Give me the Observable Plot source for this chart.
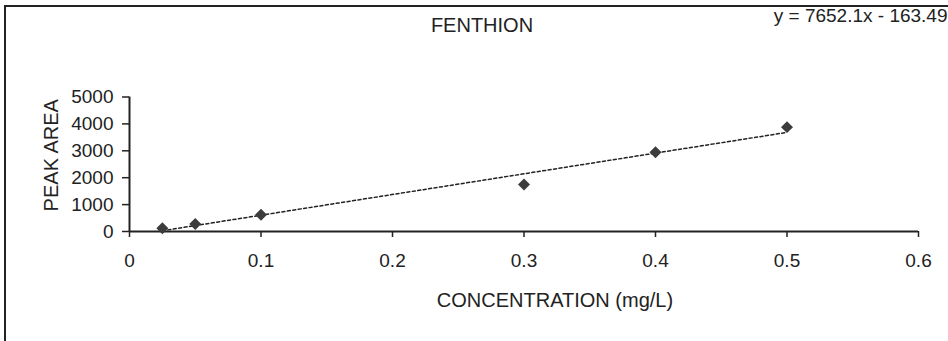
<!DOCTYPE html>
<html><head><meta charset="utf-8">
<script src="https://cdn.jsdelivr.net/npm/d3@7"></script>
<script src="https://cdn.jsdelivr.net/npm/@observablehq/plot@0.6"></script>
<style>
body{margin:0;background:#fff;}
#wrap{position:relative;width:948px;height:341px;overflow:hidden;}
#frame{position:absolute;left:4px;top:5px;width:2000px;height:2000px;border-left:2px solid #222;border-top:2px solid #222;pointer-events:none;}
#chart{position:absolute;left:0;top:0;}
</style></head><body><div id="wrap"><div id="frame"></div><div id="chart"></div></div>
<script>
const concentration = [0.025, 0.05, 0.1, 0.3, 0.4, 0.5];
const peakArea = [120, 280, 620, 1750, 2950, 3880];
const xTicks = [0, 0.1, 0.2, 0.3, 0.4, 0.5, 0.6];
const yTicks = [0, 1000, 2000, 3000, 4000, 5000];
const title = "FENTHION";
const equation = "y = 7652.1x - 163.49";
const xLabel = "CONCENTRATION (mg/L)";
const yLabel = "PEAK AREA";

const data = concentration.map((c, i) => ({c, a: peakArea[i]}));
const fmt = d => String(d);
const ink = "#222";

const chart = Plot.plot({
  width: 948, height: 341,
  marginLeft: 129, marginRight: 30, marginTop: 96.5, marginBottom: 110,
  style: {fontFamily: "'Liberation Sans', Arial, sans-serif", fontSize: "18px", color: ink, background: "transparent"},
  x: {domain: [0, 0.6], label: null},
  y: {domain: [0, 5000], label: null},
  marks: [
    Plot.axisX({ticks: xTicks, tickFormat: fmt, tickSize: 6, tickPadding: 16, fontSize: 19, label: null, strokeWidth: 1.5}),
    Plot.axisY({ticks: yTicks, tickFormat: fmt, tickSize: 7, tickPadding: 9, fontSize: 19, label: null, strokeWidth: 1.5}),
    Plot.ruleY([0], {stroke: ink, strokeWidth: 2}),
    Plot.ruleX([0], {stroke: ink, strokeWidth: 2}),
    Plot.linearRegressionY(data, {x: "c", y: "a", ci: 0, stroke: ink, strokeWidth: 1.5, strokeDasharray: "3,2.5"}),
    Plot.dot(data, {x: "c", y: "a", symbol: "diamond2", r: 5.4, fill: "#3c3c3c", stroke: "none"}),
    Plot.text([title], {frameAnchor: "top", textAnchor: "middle", lineAnchor: "middle", dx: -42, dy: -71, fontSize: 20}),
    Plot.text([equation], {frameAnchor: "top-right", textAnchor: "end", lineAnchor: "middle", dx: 29, dy: -81.5, fontSize: 19}),
    Plot.text([xLabel], {frameAnchor: "bottom", textAnchor: "middle", lineAnchor: "middle", dx: 31, dy: 69, fontSize: 20}),
    Plot.text([yLabel], {frameAnchor: "left", textAnchor: "middle", lineAnchor: "middle", rotate: -90, dx: -78, dy: -9, fontSize: 20})
  ]
});
document.getElementById("chart").appendChild(chart);
</script>
</body></html>
